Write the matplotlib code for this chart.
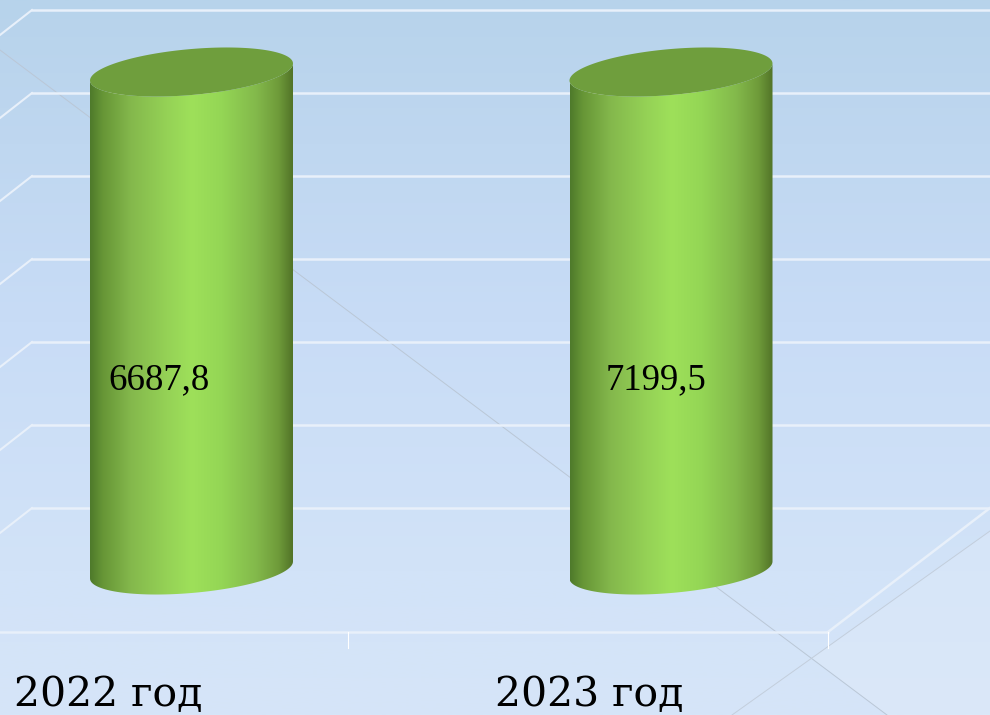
import numpy as np
import matplotlib
matplotlib.use("Agg")
import matplotlib.pyplot as plt
from matplotlib.colors import LinearSegmentedColormap
from matplotlib.patches import PathPatch, Polygon
from matplotlib.path import Path

categories = ["2022 год", "2023 год"]
values = [6687.8, 7199.5]
y_ticks = [0, 1000, 2000, 3000, 4000, 5000, 6000]
axis_max = 6000

W, H, DPI = 990, 715, 100
PX_PER_UNIT = 0.083
PX_PER_CAT = 479.5
Y0_PX, X0_PX = 570.0, 191.5

fig = plt.figure(figsize=(W / DPI, H / DPI), dpi=DPI)
ax = fig.add_axes([0, 0, 1, 1])
xlim = (-X0_PX / PX_PER_CAT, (W - X0_PX) / PX_PER_CAT)
ylim = ((Y0_PX - H) / PX_PER_UNIT, Y0_PX / PX_PER_UNIT)


def cx(px):
    return (px - X0_PX) / PX_PER_CAT


def vy(px):
    return (Y0_PX - px) / PX_PER_UNIT


# background
bg = LinearSegmentedColormap.from_list(
    "bg", [(0, "#B7D3EB"), (0.2, "#BFD7F0"), (0.45, "#C8DCF6"), (0.8, "#D2E3F8"), (1, "#D6E5F8")]
)
ax.imshow(np.linspace(0, 1, 256)[:, None], cmap=bg, extent=(0, 1, 0, 1),
          transform=ax.transAxes, aspect="auto", zorder=0)
ax.add_patch(Polygon([(cx(812), vy(658)), (cx(990), vy(531)), (cx(990), vy(715)), (cx(887), vy(715))],
                     closed=True, fc="white", alpha=0.13, ec="none", zorder=0.5))
# decorative thin diagonals
ax.plot([cx(0), cx(887)], [vy(50), vy(715)], color="#BAC7D6", lw=0.7, zorder=1)
ax.plot([cx(732), cx(990)], [vy(715), vy(531)], color="#C3CEDC", lw=0.7, zorder=1)

# walls and floor
DEPTH = 62 / PX_PER_UNIT
grid_c = "#E8F0FA"
back_left, back_right = cx(32), cx(990)
for t in y_ticks:
    ax.plot([back_left, back_right], [t + DEPTH, t + DEPTH], color=grid_c, lw=1.8, zorder=2)
    ax.plot([cx(0), back_left], [t + DEPTH - 25 / PX_PER_UNIT, t + DEPTH], color=grid_c, lw=1.5, zorder=2)
ax.plot([cx(0), cx(828)], [-DEPTH, -DEPTH], color=grid_c, lw=1.8, zorder=2)
ax.plot([cx(828), cx(990)], [-DEPTH, DEPTH], color=grid_c, lw=1.8, zorder=2)
for tx in (cx(348), cx(828)):
    ax.plot([tx, tx], [-DEPTH, -DEPTH - 16 / PX_PER_UNIT], color="white", lw=0.8, zorder=2)

# cylinders
hw = 101.5 / PX_PER_CAT
eb = 23 / PX_PER_UNIT
es = 8.5 / PX_PER_UNIT
body_cm = LinearSegmentedColormap.from_list("body", [
    (0, "#4E7A2B"), (0.06, "#669536"), (0.2, "#84B84C"), (0.38, "#95D256"), (0.5, "#9EE05A"),
    (0.65, "#94D655"), (0.82, "#83B94B"), (0.93, "#6F9B3A"), (1, "#527428")])
t_lo = np.linspace(np.pi, 2 * np.pi, 80)
t_all = np.linspace(0, 2 * np.pi, 160)
for i, v in enumerate(values):
    top = min(v, axis_max)
    xb = i + hw * np.cos(t_lo)
    yb = eb * np.sin(t_lo) + es * np.cos(t_lo)
    xt = i + hw * np.cos(t_lo[::-1])
    yt = top + eb * np.sin(t_lo[::-1]) + es * np.cos(t_lo[::-1])
    # body: bottom front arc, then back across the top
    verts = np.vstack([np.c_[xb, yb], np.c_[xt, yt]])
    body = PathPatch(Path(np.vstack([verts, verts[0]]), closed=True), fc="none", ec="none",
                     transform=ax.transData)
    ax.add_patch(body)
    im = ax.imshow(np.linspace(0, 1, 256)[None, :], cmap=body_cm,
                   extent=(i - hw, i + hw, -eb - es, top + eb + es),
                   aspect="auto", zorder=3)
    im.set_clip_path(body)
    ax.fill(i + hw * np.cos(t_all), top + eb * np.sin(t_all) + es * np.cos(t_all),
            color="#6F9E3D", lw=0, zorder=4)

# value labels
label_offsets = [-32, -15]
for i, v in enumerate(values):
    ax.annotate(f"{v:.1f}".replace(".", ","), xy=(i, vy(380)), xytext=(label_offsets[i], 0),
                textcoords="offset pixels", ha="center", va="center",
                family="Liberation Serif", fontsize=26.5, color="black", zorder=5)

# category labels
cat_offsets = [-83, -82]
for i, c in enumerate(categories):
    ax.annotate(c, xy=(i, vy(706)), xytext=(cat_offsets[i], 0), textcoords="offset pixels",
                ha="center", va="baseline", family="DejaVu Serif", fontsize=29.5,
                color="black", zorder=5)

ax.set_xlim(xlim)
ax.set_ylim(ylim)
ax.axis("off")
fig.savefig("out.png", dpi=DPI)
